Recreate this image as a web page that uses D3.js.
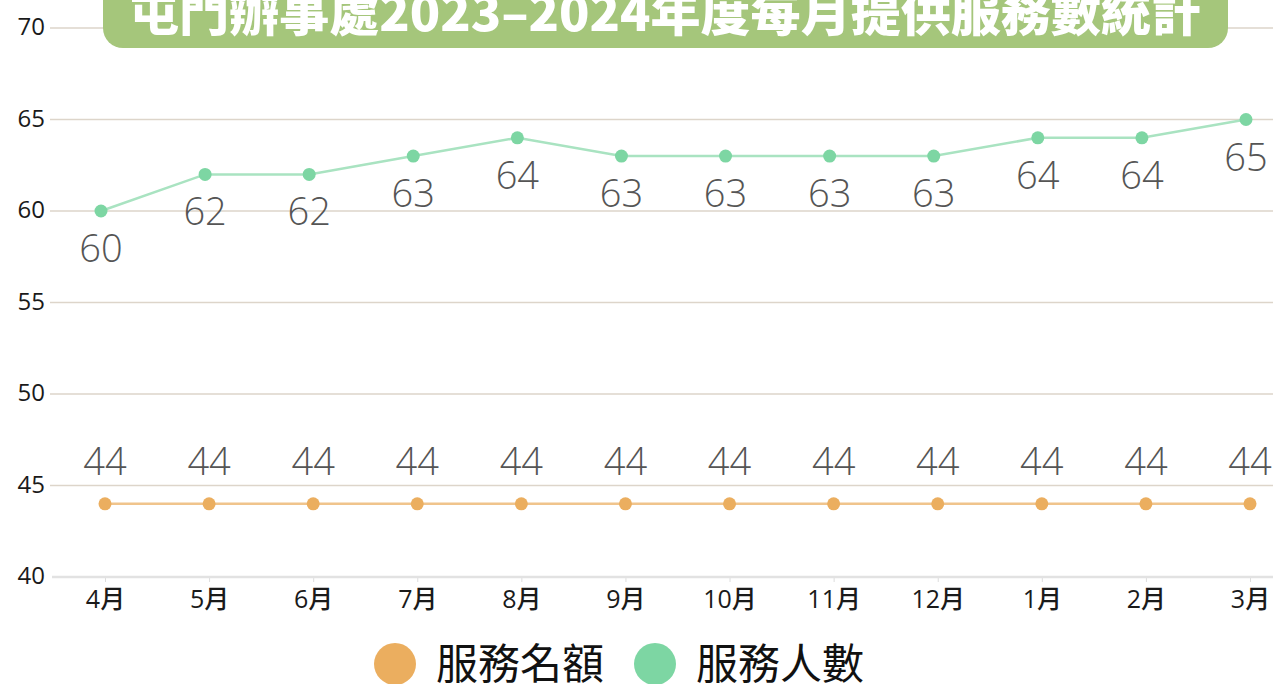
<!DOCTYPE html>
<html>
<head>
<meta charset="utf-8">
<script src="https://cdn.jsdelivr.net/npm/d3@7"></script>
<style>
  body { margin: 0; background: #fff; }
  svg { display: block; }
</style>
</head>
<body>
<svg id="chart"></svg>
<script>
const months = ["4月", "5月", "6月", "7月", "8月", "9月", "10月", "11月", "12月", "1月", "2月", "3月"];
const quota = [44, 44, 44, 44, 44, 44, 44, 44, 44, 44, 44, 44];   // 服務名額
const served = [60, 62, 62, 63, 64, 63, 63, 63, 63, 64, 64, 65];  // 服務人數
const yTicks = [40, 45, 50, 55, 60, 65, 70];
const title = "屯門辦事處2023–2024年度每月提供服務數統計";

const svgWidth = 1273;
const svgHeight = 684;

const svg = d3.select("#chart")
    .attr("width", svgWidth)
    .attr("height", svgHeight)
    .style("font-family", "'Open Sans', 'Noto Sans CJK TC', sans-serif");

const xScale = d3.scalePoint().domain(months).range([105, 1250]);
const yScale = d3.scaleLinear().domain([40, 70]).range([577, 28]);

const orange = "#ebae5f";
const green = "#7dd6a3";

// gridlines
svg.append("g")
    .selectAll("line")
    .data(yTicks.filter(d => d > 40))
    .enter().append("line")
    .attr("x1", 50)
    .attr("x2", svgWidth)
    .attr("y1", d => yScale(d))
    .attr("y2", d => yScale(d))
    .attr("stroke", "#ddd5ca")
    .attr("stroke-width", 1.5);

// y tick labels
svg.append("g")
    .selectAll("text")
    .data(yTicks)
    .enter().append("text")
    .attr("x", 45)
    .attr("y", d => yScale(d))
    .attr("dy", "0.3em")
    .attr("text-anchor", "end")
    .style("font-size", "24px")
    .style("font-weight", 500)
    .style("fill", "#1a1a1a")
    .text(d => d);

// x axis
const xAxis = svg.append("g")
    .attr("transform", `translate(0,${yScale(40)})`)
    .call(d3.axisBottom(xScale).tickSize(5).tickPadding(8).tickSizeOuter(0));
xAxis.select(".domain").remove();
xAxis.selectAll(".tick line").attr("stroke", "#ddd");
xAxis.selectAll(".tick text")
    .style("font-size", "25px")
    .style("font-weight", 500)
    .style("font-family", "'Open Sans', 'Noto Sans CJK TC', sans-serif")
    .style("fill", "#1a1a1a");
svg.append("line")
    .attr("x1", 52)
    .attr("x2", svgWidth)
    .attr("y1", yScale(40))
    .attr("y2", yScale(40))
    .attr("stroke", "#e2e2e2")
    .attr("stroke-width", 2.5);

// series
const series = [
    { name: "服務名額", values: quota, color: orange, line: "#f0c48c", shift: 0, labelDy: -29 },
    { name: "服務人數", values: served, color: green, line: "#a9e3c1", shift: -4, labelDy: 51 }
];

series.forEach(s => {
    const line = d3.line()
        .x((d, i) => xScale(months[i]) + s.shift)
        .y(d => yScale(d));

    svg.append("path")
        .datum(s.values)
        .attr("d", line)
        .attr("fill", "none")
        .attr("stroke", s.line)
        .attr("stroke-width", 2.5);

    svg.append("g")
        .selectAll("circle")
        .data(s.values)
        .enter().append("circle")
        .attr("cx", (d, i) => xScale(months[i]) + s.shift)
        .attr("cy", d => yScale(d))
        .attr("r", 6.5)
        .attr("fill", s.color);

    svg.append("g")
        .selectAll("text")
        .data(s.values)
        .enter().append("text")
        .attr("x", (d, i) => xScale(months[i]) + s.shift)
        .attr("y", d => yScale(d) + s.labelDy)
        .attr("text-anchor", "middle")
        .style("font-size", "38px")
        .style("font-weight", 300)
        .style("fill", "#555")
        .text(d => d);
});

// Title
svg.append("rect")
    .attr("x", 103)
    .attr("y", -30)
    .attr("width", 1125)
    .attr("height", 78)
    .attr("rx", 20)
    .attr("fill", "#a5c67b");

svg.append("text")
    .attr("x", 665)
    .attr("y", 31)
    .attr("text-anchor", "middle")
    .attr("textLength", 1072)
    .attr("lengthAdjust", "spacingAndGlyphs")
    .style("font-family", "'Noto Sans CJK TC', sans-serif")
    .style("font-size", "48px")
    .style("font-weight", 900)
    .style("fill", "#fff")
    .text(title);

// Legend
const legend = svg.append("g")
    .selectAll("g")
    .data(series)
    .enter().append("g")
    .attr("transform", (d, i) => `translate(${395 + i * 260},664)`);

legend.append("circle")
    .attr("r", 21)
    .attr("fill", d => d.color);

legend.append("text")
    .attr("x", 41)
    .attr("dy", "0.35em")
    .style("font-family", "'Noto Sans CJK TC', sans-serif")
    .style("font-size", "42px")
    .style("fill", "#111")
    .text(d => d.name);
</script>
</body>
</html>
